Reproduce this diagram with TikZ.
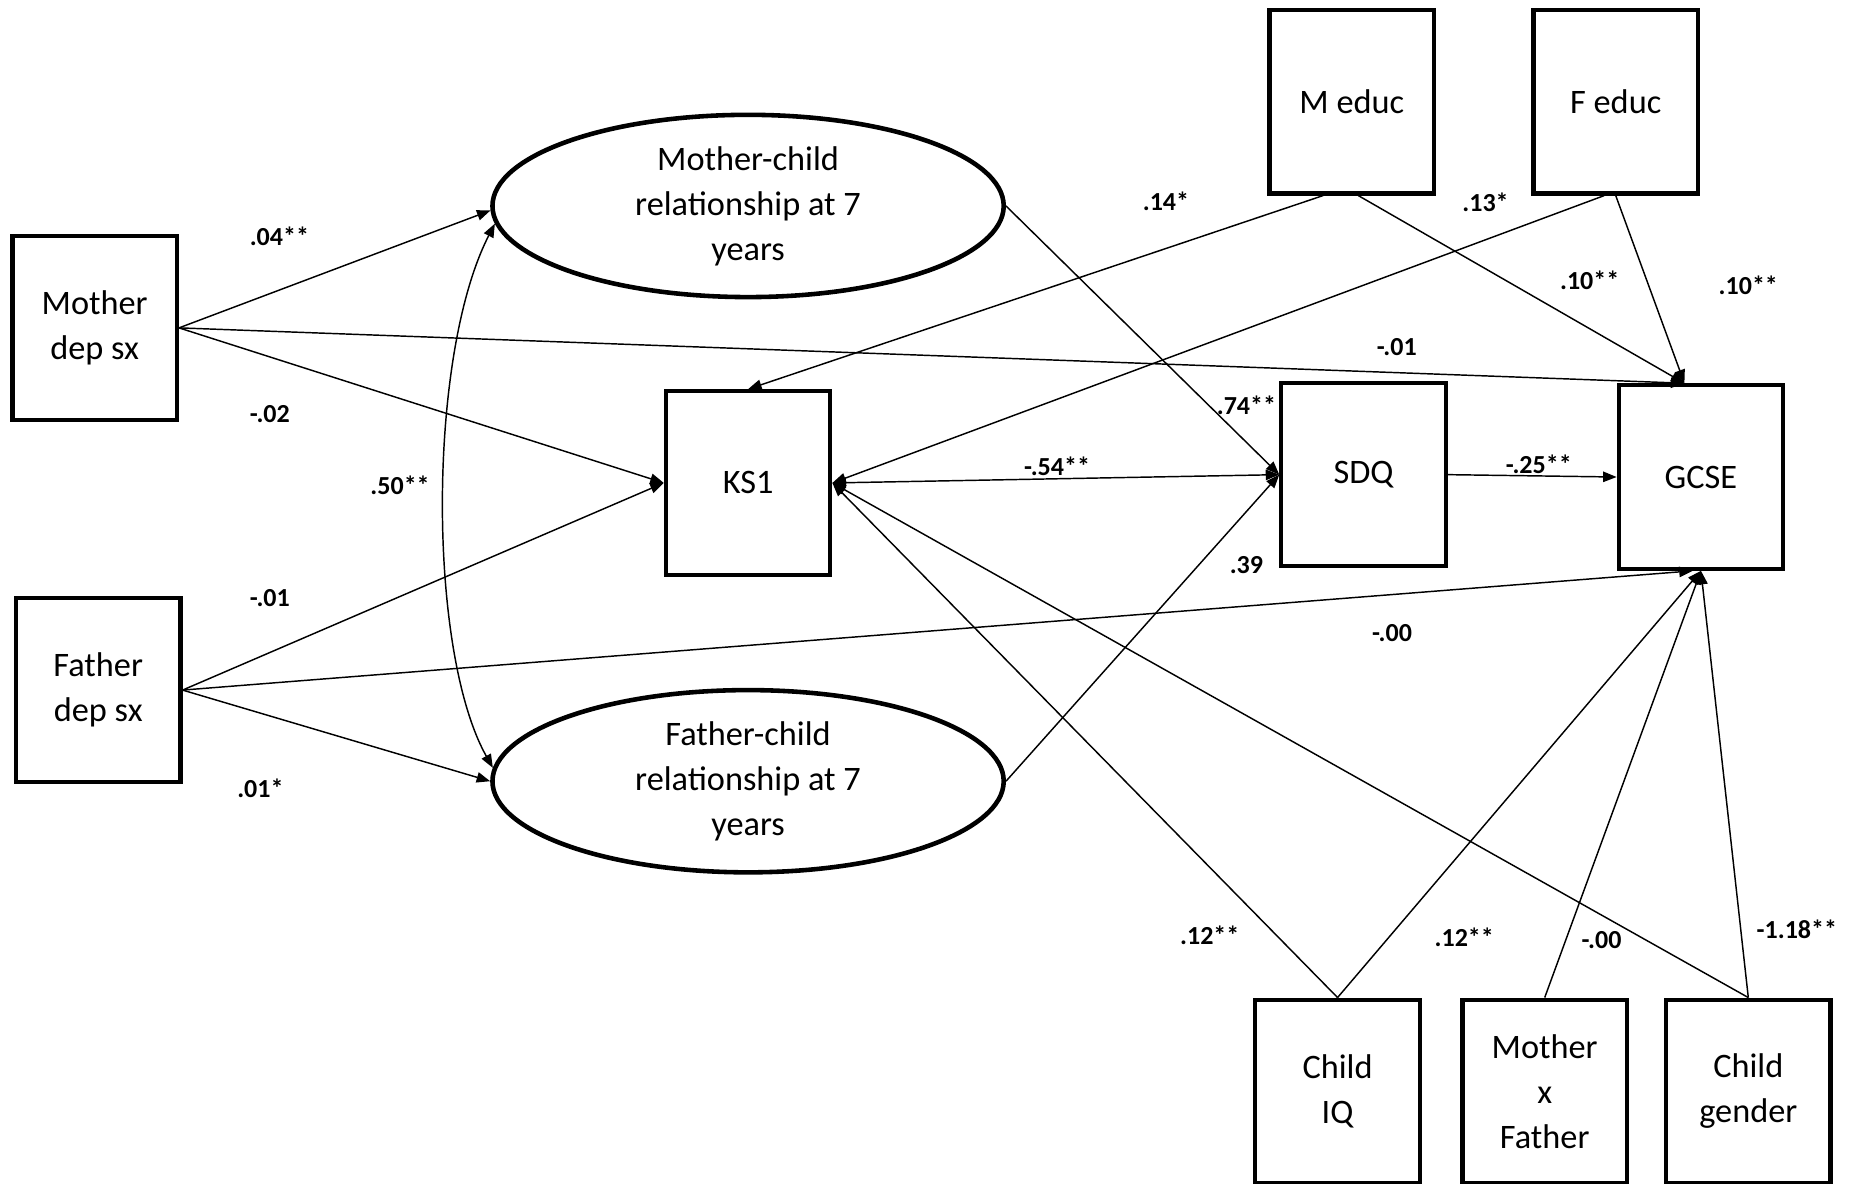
\documentclass[tikz,border=0pt]{standalone}
\usepackage{fontspec}
\setmainfont{Carlito}
\usetikzlibrary{shapes.geometric}
\usetikzlibrary{arrows.meta}
\tikzset{%
    var/.style={draw=black,line width=2pt,minimum width=2.78cm,minimum height=3.1cm,inner sep=0pt,align=center,font=\fontsize{16.5}{21.6}\selectfont}
}

\begin{document}
\begin{tikzpicture}[x=0.02cm,y=-0.02cm,
        lat/.style={ellipse,draw=black,line width=2.2pt,minimum width=8.64cm,minimum height=3.08cm,inner sep=0pt,align=center,font=\fontsize{16.5}{21.6}\selectfont},
        link/.style={line width=0.7pt,-{Triangle[length=6.5pt,width=5pt]}},
        dbl/.style={line width=0.7pt,{Triangle[length=6.5pt,width=5pt]}-{Triangle[length=6.5pt,width=5pt]}},
        coef/.style={font=\bfseries\fontsize{12.5}{14}\selectfont,inner sep=1pt}
        ]
        \useasboundingbox (0,0) rectangle (1568,1000);

        \node[var] (mdep) at (80,277){Mother\\dep sx};
        \node[var] (fdep) at (83,583){Father\\dep sx};
        \node[lat] (mcr) at (632,174){Mother-child\\relationship at 7\\years};
        \node[lat] (fcr) at (632,660){Father-child\\relationship at 7\\years};
        \node[var] (ks1) at (632,408){KS1};
        \node[var] (sdq) at (1152,401){SDQ};
        \node[var] (gcse) at (1437,403){GCSE};
        \node[var] (meduc) at (1142,86){M educ};
        \node[var] (feduc) at (1365,86){F educ};
        \node[var] (ciq) at (1130,922){Child\\IQ};
        \node[var] (mxf) at (1305,922){Mother\\x\\Father};
        \node[var] (cgen) at (1477,922){Child\\gender};

        \draw[link] (mdep.east) -- (mcr.181);
        \draw[link] (mdep.east) -- (ks1.west);
        \draw[link] (mdep.east) -- (gcse.100);
        \draw[link] (fdep.east) -- (ks1.west);
        \draw[link] (fdep.east) -- (fcr.west);
        \draw[link] (fdep.east) -- (gcse.265);
        \draw[dbl] (mcr.184) .. controls (361,300) and (361,550) .. (fcr.177);
        \draw[link] (mcr.east) -- (sdq.west);
        \draw[link] (fcr.east) -- (sdq.west);
        \draw[dbl] (ks1.east) -- (sdq.west);
        \draw[link] (meduc.-107) -- (ks1.north);
        \draw[link] (meduc.-86) -- (gcse.100);
        \draw[link] (feduc.-97) -- (ks1.east);
        \draw[link] (feduc.south) -- (gcse.100);
        \draw[link] (sdq.east) -- (gcse.west);
        \draw[link] (ciq.north) -- (ks1.east);
        \draw[link] (ciq.north) -- (gcse.south);
        \draw[link] (mxf.north) -- (gcse.south);
        \draw[link] (cgen.north) -- (ks1.east);
        \draw[link] (cgen.north) -- (gcse.south);

        \node[coef] (c1) at (236,200){.04**};
        \node[coef] (c2) at (228,350){-.02};
        \node[coef] (c3) at (338,410){.50**};
        \node[coef] (c4) at (228,505){-.01};
        \node[coef] (c5) at (220,666){.01*};
        \node[coef] (c6) at (985,170){.14*};
        \node[coef] (c7) at (1255,171){.13*};
        \node[coef] (c8) at (1343,237){.10**};
        \node[coef] (c9) at (1477,241){.10**};
        \node[coef] (c10) at (1180,293){-.01};
        \node[coef] (c11) at (1053,342){.74**};
        \node[coef] (c12) at (893,394){-.54**};
        \node[coef] (c13) at (1300,392){-.25**};
        \node[coef] (c14) at (1053,477){.39};
        \node[coef] (c15) at (1176,535){-.00};
        \node[coef] (c16) at (1022,790){.12**};
        \node[coef] (c17) at (1237,792){.12**};
        \node[coef] (c18) at (1353,794){-.00};
        \node[coef] (c19) at (1518,785){-1.18**};
    \end{tikzpicture}
\end{document}
